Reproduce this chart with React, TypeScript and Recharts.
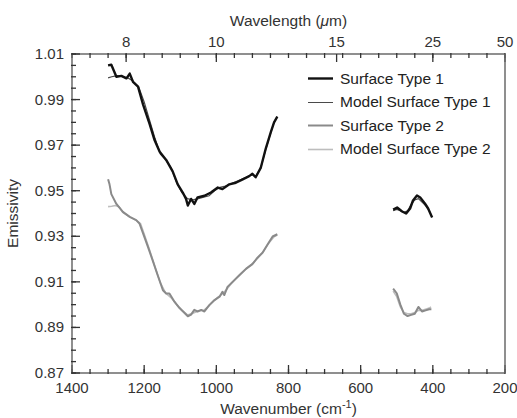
import { LineChart, Line, XAxis, YAxis, Legend, Label } from 'recharts';

// wavenumbers (cm-1) and emissivities
const type1Wn = [1300, 1291, 1277, 1263, 1249, 1240, 1231, 1217, 1203, 1185, 1171, 1157, 1139, 1121, 1107, 1093, 1084, 1079, 1070, 1061, 1052, 1033, 1015, 996, 983, 964, 946, 927, 909, 900, 891, 877, 863, 849, 840, 831];
const type1Val = [1.005, 1.0053, 1.0, 1.0004, 0.9993, 1.0014, 0.9978, 0.9957, 0.9878, 0.9793, 0.9721, 0.9671, 0.9635, 0.9585, 0.9528, 0.9492, 0.9464, 0.9435, 0.9464, 0.9442, 0.9471, 0.9478, 0.9492, 0.9514, 0.9507, 0.9528, 0.9535, 0.955, 0.9564, 0.9574, 0.9559, 0.96, 0.9685, 0.9757, 0.98, 0.9825];
const type1WnB = [510, 499, 485, 474, 463, 455, 444, 435, 422, 413, 402];
const type1ValB = [0.9417, 0.9426, 0.9409, 0.94, 0.9422, 0.9457, 0.9479, 0.947, 0.9444, 0.9422, 0.9382];

const model1Wn = [1300, 1290, 1275, 1260, 1245, 1230, 1215, 1200, 1185, 1170, 1155, 1140, 1125, 1110, 1095, 1080, 1065, 1050, 1035, 1020, 1005, 990, 975, 960, 945, 930, 915, 900, 890, 877, 863, 849, 840, 831];
const model1Val = [0.9995, 1.0, 1.0005, 1.0, 0.9995, 0.998, 0.9955, 0.989, 0.981, 0.973, 0.966, 0.9635, 0.96, 0.9535, 0.949, 0.9465, 0.946, 0.9465, 0.9472, 0.9478, 0.95, 0.9515, 0.952, 0.953, 0.954, 0.955, 0.956, 0.957, 0.9565, 0.96, 0.968, 0.9755, 0.98, 0.9825];
const model1WnB = [510, 500, 490, 480, 470, 460, 450, 440, 430, 420, 410, 402];
const model1ValB = [0.9412, 0.9418, 0.9412, 0.9405, 0.9412, 0.944, 0.946, 0.9465, 0.945, 0.9435, 0.9412, 0.9385];

const type2Wn = [1300, 1296, 1291, 1277, 1259, 1240, 1222, 1213, 1203, 1190, 1176, 1162, 1148, 1139, 1130, 1116, 1102, 1088, 1079, 1070, 1061, 1052, 1042, 1033, 1019, 1005, 991, 983, 978, 969, 955, 937, 918, 900, 886, 872, 858, 844, 831];
const type2Val = [0.955, 0.9528, 0.9485, 0.9442, 0.9407, 0.9385, 0.9371, 0.9356, 0.9313, 0.9256, 0.9192, 0.9127, 0.9063, 0.9049, 0.9049, 0.9013, 0.8985, 0.8963, 0.8949, 0.8956, 0.8977, 0.897, 0.8977, 0.897, 0.8999, 0.902, 0.9035, 0.9056, 0.9042, 0.9078, 0.91, 0.9128, 0.9157, 0.9178, 0.9206, 0.9228, 0.9264, 0.9299, 0.9309];
const type2WnB = [510, 500, 490, 480, 470, 460, 450, 440, 430, 420, 410, 404];
const type2ValB = [0.907, 0.905, 0.9, 0.896, 0.895, 0.8955, 0.896, 0.899, 0.897, 0.8975, 0.898, 0.898];

const model2Wn = [1300, 1290, 1280, 1270, 1259, 1240, 1222, 1210, 1200, 1185, 1170, 1155, 1140, 1125, 1110, 1095, 1080, 1065, 1050, 1035, 1020, 1005, 990, 975, 960, 945, 930, 915, 900, 885, 870, 855, 840, 831];
const model2Val = [0.943, 0.9432, 0.9435, 0.943, 0.9405, 0.9385, 0.937, 0.9355, 0.931, 0.924, 0.9165, 0.9095, 0.905, 0.903, 0.9, 0.8975, 0.8955, 0.8962, 0.8972, 0.8975, 0.8995, 0.902, 0.904, 0.906, 0.909, 0.9115, 0.9138, 0.916, 0.918, 0.9205, 0.9232, 0.927, 0.9298, 0.9305];
const model2WnB = [510, 500, 490, 480, 470, 460, 450, 440, 430, 420, 410, 405];
const model2ValB = [0.906, 0.9035, 0.899, 0.8965, 0.896, 0.896, 0.8965, 0.8975, 0.8975, 0.898, 0.8985, 0.899];

const seriesNames = ['Surface Type 1', 'Model Surface Type 1', 'Surface Type 2', 'Model Surface Type 2'];

const xLabelTicks = [1400, 1200, 1000, 800, 600, 400, 200];
const topLabelTicks = [1250, 1000, 666.67, 400, 200];
const topLabels = ['8', '10', '15', '25', '50'];
const yLabelTicks = [0.87, 0.89, 0.91, 0.93, 0.95, 0.97, 0.99, 1.01];

const minorX: number[] = [];
for (let w = 200; w <= 1400; w += 50) minorX.push(w);
const yTicks: number[] = [];
for (let i = 0; i <= 28; i++) yTicks.push(Math.round((0.87 + i * 0.005) * 1000) / 1000);

// two segments per series, split with a null so the gap is not bridged
const build = (wa: number[], va: number[], wb: number[], vb: number[]) => [
  ...wa.map((wn, i) => ({ wn, v: va[i] })),
  { wn: 700, v: null },
  ...wb.map((wn, i) => ({ wn, v: vb[i] })),
];

const type1 = build(type1Wn, type1Val, type1WnB, type1ValB);
const model1 = build(model1Wn, model1Val, model1WnB, model1ValB);
const type2 = build(type2Wn, type2Val, type2WnB, type2ValB);
const model2 = build(model2Wn, model2Val, model2WnB, model2ValB);

const FONT = '"Liberation Sans", Arial, sans-serif';
const FRAME = '#6a6a6a';
const TICK = { stroke: '#333', strokeWidth: 1.3 };
const TEXT = '#333';
const styles = [
  { color: '#111', width: 2.4 },
  { color: '#4a4a4a', width: 1 },
  { color: '#8a8a8a', width: 2 },
  { color: '#bdbdbd', width: 1.6 },
];

// labels only; the tick marks come from recharts' own tickLine (negative size = inward)
const BottomLabel = (props: any) => (
  <text x={props.x} y={props.y + 20} textAnchor="middle" fontSize={15} fill={TEXT} fontFamily={FONT}>
    {props.payload.value}
  </text>
);

const TopLabel = (props: any) => (
  <text x={props.x} y={props.y - 7} textAnchor="middle" fontSize={15} fill={TEXT} fontFamily={FONT}>
    {topLabels[topLabelTicks.indexOf(props.payload.value)]}
  </text>
);

const LeftLabel = (props: any) => (
  <text x={props.x - 8} y={props.y + 5} textAnchor="end" fontSize={15} fill={TEXT} fontFamily={FONT}>
    {props.payload.value.toFixed(2)}
  </text>
);

const noLabel = () => '';

const renderLegend = () => (
  <div style={{ fontFamily: FONT, fontSize: 15.5, color: '#222' }}>
    {seriesNames.map((name, i) => (
      <div key={name} style={{ display: 'flex', alignItems: 'center', height: 23.5 }}>
        <svg width={25} height={7} style={{ marginRight: 7 }}>
          <line x1={0} x2={25} y1={3.5} y2={3.5} stroke={styles[i].color} strokeWidth={styles[i].width} />
        </svg>
        <span>{name}</span>
      </div>
    ))}
  </div>
);

export default function App() {
  return (
    <div style={{ position: 'fixed', left: 0, top: 0, width: 517, height: 418, background: '#fff' }}>
      <LineChart width={517} height={418} margin={{ top: 52, right: 11, bottom: 43, left: 70 }}>
        <XAxis
          dataKey="wn"
          type="number"
          domain={[200, 1400]}
          reversed
          allowDataOverflow
          ticks={xLabelTicks}
          interval={0}
          height={1}
          tickSize={-8}
          tickMargin={8}
          tick={BottomLabel}
          tickLine={TICK}
          axisLine={{ stroke: FRAME, strokeWidth: 1.5 }}
        >
          <Label
            content={({ viewBox }: any) => (
              <text x={viewBox.x + viewBox.width / 2} y={viewBox.y + 41} textAnchor="middle" fontSize={15.5} fill={TEXT} fontFamily={FONT}>
                Wavenumber (cm
                <tspan dy={-6} fontSize={11}>-1</tspan>
                <tspan dy={6}>)</tspan>
              </text>
            )}
          />
        </XAxis>
        <XAxis
          xAxisId="bottomMinor"
          dataKey="wn"
          type="number"
          domain={[200, 1400]}
          reversed
          allowDataOverflow
          ticks={minorX}
          interval={0}
          height={1}
          tickSize={-5}
          tickMargin={5}
          tickFormatter={noLabel}
          tickLine={TICK}
          axisLine={false}
        />
        <XAxis
          xAxisId="top"
          orientation="top"
          dataKey="wn"
          type="number"
          domain={[200, 1400]}
          reversed
          allowDataOverflow
          ticks={topLabelTicks}
          interval={0}
          height={1}
          tickSize={-8}
          tickMargin={8}
          tick={TopLabel}
          tickLine={TICK}
          axisLine={{ stroke: FRAME, strokeWidth: 1.5 }}
        >
          <Label
            content={({ viewBox }: any) => (
              <text x={viewBox.x + viewBox.width / 2} y={viewBox.y - 27} textAnchor="middle" fontSize={15.5} fill={TEXT} fontFamily={FONT}>
                Wavelength (<tspan fontStyle="italic">μ</tspan>m)
              </text>
            )}
          />
        </XAxis>
        <XAxis
          xAxisId="topMinor"
          orientation="top"
          dataKey="wn"
          type="number"
          domain={[200, 1400]}
          reversed
          allowDataOverflow
          ticks={minorX}
          interval={0}
          height={1}
          tickSize={-5}
          tickMargin={5}
          tickFormatter={noLabel}
          tickLine={TICK}
          axisLine={false}
        />
        <YAxis
          type="number"
          domain={[0.87, 1.01]}
          ticks={yLabelTicks}
          interval={0}
          width={1}
          tickSize={-8}
          tickMargin={8}
          tick={LeftLabel}
          tickLine={TICK}
          axisLine={{ stroke: FRAME, strokeWidth: 1.5 }}
          allowDataOverflow
        >
          <Label
            content={({ viewBox }: any) => {
              const cx = viewBox.x - 53;
              const cy = viewBox.y + viewBox.height / 2;
              return (
                <text x={cx} y={cy} transform={`rotate(-90 ${cx} ${cy})`} textAnchor="middle" fontSize={15.5} fill={TEXT} fontFamily={FONT}>
                  Emissivity
                </text>
              );
            }}
          />
        </YAxis>
        <YAxis
          yAxisId="leftMinor"
          type="number"
          domain={[0.87, 1.01]}
          ticks={yTicks}
          interval={0}
          width={1}
          tickSize={-5}
          tickMargin={5}
          tickFormatter={noLabel}
          tickLine={TICK}
          axisLine={false}
          allowDataOverflow
        />
        <YAxis
          yAxisId="right"
          orientation="right"
          type="number"
          domain={[0.87, 1.01]}
          allowDataOverflow
          width={1}
          tick={false}
          tickLine={false}
          axisLine={{ stroke: FRAME, strokeWidth: 1.5 }}
        />
        <Legend
          layout="horizontal"
          verticalAlign="middle"
          align="center"
          content={renderLegend}
          wrapperStyle={{ top: 67, left: 308, width: 205 }}
        />
        <Line data={model1} dataKey="v" name={seriesNames[1]} stroke={styles[1].color} strokeWidth={1.2} dot={false} isAnimationActive={false} />
        <Line data={type1} dataKey="v" name={seriesNames[0]} stroke={styles[0].color} strokeWidth={styles[0].width} dot={false} isAnimationActive={false} strokeLinejoin="round" />
        <Line data={model2} dataKey="v" name={seriesNames[3]} stroke={styles[3].color} strokeWidth={styles[3].width} dot={false} isAnimationActive={false} />
        <Line data={type2} dataKey="v" name={seriesNames[2]} stroke={styles[2].color} strokeWidth={styles[2].width} dot={false} isAnimationActive={false} strokeLinejoin="round" />
      </LineChart>
    </div>
  );
}
